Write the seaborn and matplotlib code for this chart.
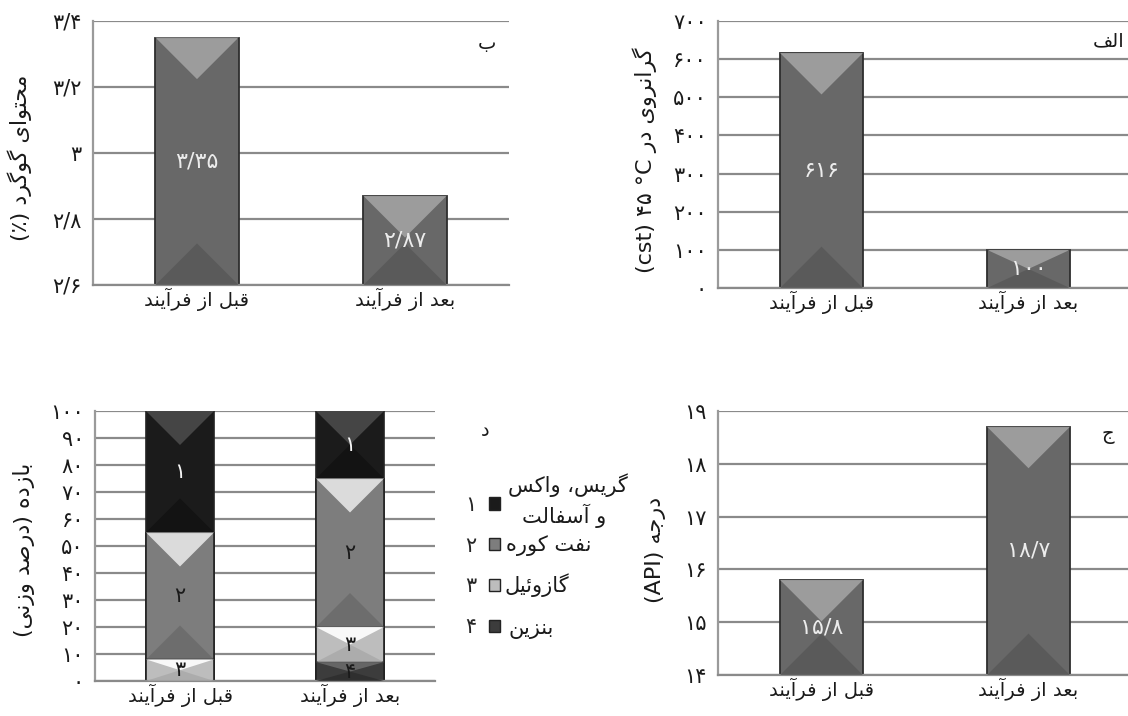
import numpy as np
import pandas as pd
import matplotlib
matplotlib.use('Agg')
import matplotlib.pyplot as plt
import seaborn as sns
from matplotlib.patches import Polygon, Patch

# ---------------- data ----------------
categories = ['قبل از فرآیند', 'بعد از فرآیند']

viscosity = [616, 100]
viscosity_labels = ['۶۱۶', '۱۰۰']
visc_ticks = [0, 100, 200, 300, 400, 500, 600, 700]
visc_ticklabels = ['۰', '۱۰۰', '۲۰۰', '۳۰۰', '۴۰۰', '۵۰۰', '۶۰۰', '۷۰۰']

sulfur = [3.35, 2.87]
sulfur_labels = ['۳/۳۵', '۲/۸۷']
sulfur_ticks = [2.6, 2.8, 3.0, 3.2, 3.4]
sulfur_ticklabels = ['۲/۶', '۲/۸', '۳', '۳/۲', '۳/۴']

api = [15.8, 18.7]
api_labels = ['۱۵/۸', '۱۸/۷']
api_ticks = [14, 15, 16, 17, 18, 19]
api_ticklabels = ['۱۴', '۱۵', '۱۶', '۱۷', '۱۸', '۱۹']

# yields (wt %) : fraction 1..4
grease_wax_asphalt = [45, 25]
fuel_oil = [47, 55]
gasoil = [8, 13]
gasoline = [0, 7]
yield_ticks = [0, 10, 20, 30, 40, 50, 60, 70, 80, 90, 100]
yield_ticklabels = ['۰', '۱۰', '۲۰', '۳۰', '۴۰', '۵۰', '۶۰', '۷۰', '۸۰', '۹۰', '۱۰۰']
fraction_nums = ['۱', '۲', '۳', '۴']
fraction_names = ['گریس، واکس', 'و آسفالت', 'نفت کوره', 'گازوئیل', 'بنزین']

# ---------------- Persian shaping (presentation forms + simple bidi) ----------------
_F = {
    '\u0627': ('\uFE8D', '\uFE8E'), '\u0622': ('\uFE81', '\uFE82'),
    '\u062F': ('\uFEA9', '\uFEAA'), '\u0631': ('\uFEAD', '\uFEAE'),
    '\u0632': ('\uFEAF', '\uFEB0'), '\u0648': ('\uFEED', '\uFEEE'),
    '\u0628': ('\uFE8F', '\uFE90', '\uFE91', '\uFE92'),
    '\u062A': ('\uFE95', '\uFE96', '\uFE97', '\uFE98'),
    '\u062C': ('\uFE9D', '\uFE9E', '\uFE9F', '\uFEA0'),
    '\u062D': ('\uFEA1', '\uFEA2', '\uFEA3', '\uFEA4'),
    '\u0633': ('\uFEB1', '\uFEB2', '\uFEB3', '\uFEB4'),
    '\u0635': ('\uFEB9', '\uFEBA', '\uFEBB', '\uFEBC'),
    '\u0639': ('\uFEC9', '\uFECA', '\uFECB', '\uFECC'),
    '\u0641': ('\uFED1', '\uFED2', '\uFED3', '\uFED4'),
    '\u0642': ('\uFED5', '\uFED6', '\uFED7', '\uFED8'),
    '\u0644': ('\uFEDD', '\uFEDE', '\uFEDF', '\uFEE0'),
    '\u0645': ('\uFEE1', '\uFEE2', '\uFEE3', '\uFEE4'),
    '\u0646': ('\uFEE5', '\uFEE6', '\uFEE7', '\uFEE8'),
    '\u0647': ('\uFEE9', '\uFEEA', '\uFEEB', '\uFEEC'),
    '\u0626': ('\uFE89', '\uFE8A', '\uFE8B', '\uFE8C'),
    '\u06CC': ('\uFBFC', '\uFBFD', '\uFBFE', '\uFBFF'),
    '\u06A9': ('\uFB8E', '\uFB8F', '\uFB90', '\uFB91'),
    '\u06AF': ('\uFB92', '\uFB93', '\uFB94', '\uFB95'),
}


def _shape(s):
    out = []
    for i, c in enumerate(s):
        f = _F.get(c)
        if f is None:
            out.append(c)
            continue
        p = s[i - 1] if i > 0 else ''
        n = s[i + 1] if i + 1 < len(s) else ''
        pj = p in _F and len(_F[p]) == 4
        nj = len(f) == 4 and n in _F
        if pj and nj:
            out.append(f[3])
        elif pj:
            out.append(f[1])
        elif nj:
            out.append(f[2])
        else:
            out.append(f[0])
    return ''.join(out)


_MIRROR = {'(': ')', ')': '('}


def _ltr(c):
    return (c.isascii() and c.isalnum()) or c in '°۰۱۲۳۴۵۶۷۸۹'


def fa(s):
    s = _shape(s)
    runs = []
    for c in s:
        t = _ltr(c)
        if runs and runs[-1][0] == t:
            runs[-1][1].append(c)
        else:
            runs.append([t, [c]])
    parts = []
    for t, chars in reversed(runs):
        if t:
            parts.append(''.join(chars))
        else:
            parts.append(''.join(_MIRROR.get(c, c) for c in reversed(chars)))
    return ''.join(parts)


# ---------------- style ----------------
sns.set_style('white')
plt.rcParams['font.family'] = ['DejaVu Sans']

W, H = 1128, 716
fig = plt.figure(figsize=(W / 100, H / 100), dpi=100)

GRID = '#8a8a8a'
BAR = '#686868'
EDGE = '#2e2e2e'
TXT = '#1a1a1a'
TICK_FS = 15
CAT_FS = 14
YLAB_FS = 16


def px_axes(x0, y0, x1, y1):
    return fig.add_axes([x0 / W, 1 - y1 / H, (x1 - x0) / W, (y1 - y0) / H])


def style(ax, ylim, ticks, ticklabels):
    ax.set_xlim(-0.5, 1.5)
    ax.set_ylim(*ylim)
    ax.set_yticks(ticks)
    ax.set_yticklabels(ticklabels, fontsize=TICK_FS, color=TXT)
    ax.yaxis.grid(True, color=GRID, lw=1.6)
    ax.xaxis.grid(False)
    ax.set_axisbelow(True)
    for s in ['top', 'right']:
        ax.spines[s].set_visible(False)
    ax.spines['left'].set_color('#9a9a9a')
    ax.spines['left'].set_linewidth(1.6)
    ax.spines['bottom'].set_color(GRID)
    ax.spines['bottom'].set_linewidth(1.6)
    ax.set_xticks([0, 1])
    ax.set_xticklabels([fa(c) for c in categories], fontsize=CAT_FS, color=TXT)
    ax.set_xticks([-0.5, 0.5, 1.5], minor=True)
    ax.tick_params(axis='x', which='major', length=0, pad=2)
    ax.tick_params(axis='x', which='minor', length=8, color=GRID, width=1.5)
    ax.tick_params(axis='y', length=6, color=GRID, width=1.5, pad=2)
    ax.set_xlabel('')
    ax.set_ylabel('')


def bevel(ax, x0, w, y0, y1, light, dark):
    pos = ax.get_position()
    xr = np.diff(ax.get_xlim())[0]
    yr = np.diff(ax.get_ylim())[0]
    bw_px = w / xr * pos.width * W
    seg_px = (y1 - y0) / yr * pos.height * H
    d_px = min(bw_px / 2, seg_px / 2)
    d = d_px * yr / (pos.height * H)
    ax.add_patch(Polygon([(x0, y1), (x0 + w, y1), (x0 + w / 2, y1 - d)],
                         closed=True, fc=light, ec='none', alpha=0.9, zorder=3))
    ax.add_patch(Polygon([(x0, y0), (x0 + w, y0), (x0 + w / 2, y0 + d)],
                         closed=True, fc=dark, ec='none', alpha=0.8, zorder=3))


def simple_bars(ax, vals, labels, ylim):
    df = pd.DataFrame({'cat': [fa(c) for c in categories], 'val': vals})
    sns.barplot(data=df, x='cat', y='val', width=0.4, color=BAR, saturation=1,
                edgecolor=EDGE, linewidth=1.3, ax=ax, zorder=2)
    ax.set_ylim(*ylim)
    for i, p in enumerate(ax.patches[:len(vals)]):
        y0 = max(p.get_y(), ylim[0])
        y1 = p.get_y() + p.get_height()
        bevel(ax, p.get_x(), p.get_width(), y0, y1, '#a2a2a2', '#575757')
        ax.text(p.get_x() + p.get_width() / 2, (y0 + y1) / 2, labels[i],
                ha='center', va='center', color='#ececec', fontsize=16, zorder=5)


# ---- top-left: sulfur (ب) ----
ax_tl = px_axes(93, 21, 509, 285)
simple_bars(ax_tl, sulfur, sulfur_labels, (2.6, 3.4))
style(ax_tl, (2.6, 3.4), sulfur_ticks, sulfur_ticklabels)

# ---- top-right: viscosity (الف) ----
ax_tr = px_axes(718, 21, 1132, 288)
simple_bars(ax_tr, viscosity, viscosity_labels, (0, 700))
style(ax_tr, (0, 700), visc_ticks, visc_ticklabels)

# ---- bottom-right: API (ج) ----
ax_br = px_axes(718, 411, 1132, 675)
simple_bars(ax_br, api, api_labels, (14, 19))
style(ax_br, (14, 19), api_ticks, api_ticklabels)

# ---- bottom-left: yields stacked (د) ----
ax_bl = px_axes(95, 411, 435, 681)
ax_bl.set_ylim(0, 100)
segs = [grease_wax_asphalt, fuel_oil, gasoil, gasoline]
seg_colors = ['#1b1b1b', '#7d7d7d', '#bdbdbd', '#3c3c3c']
seg_light = ['#4a4a4a', '#e6e6e6', '#ffffff', '#6a6a6a']
seg_dark = ['#111111', '#6a6a6a', '#a8a8a8', '#2c2c2c']
seg_txt = ['#f4f4f4', '#1a1a1a', '#1a1a1a', '#1a1a1a']
cums = [np.sum(np.array(segs[k:]), axis=0) for k in range(4)]
for k in range(4):
    df = pd.DataFrame({'cat': [fa(c) for c in categories], 'val': cums[k]})
    n0 = len(ax_bl.patches)
    sns.barplot(data=df, x='cat', y='val', width=0.4, color=seg_colors[k], saturation=1,
                edgecolor='#222222', linewidth=1.2, ax=ax_bl, zorder=2)
    for i, p in enumerate(ax_bl.patches[n0:n0 + 2]):
        top = cums[k][i]
        bot = cums[k + 1][i] if k < 3 else 0
        if top - bot <= 0:
            continue
        bevel(ax_bl, p.get_x(), p.get_width(), bot, top, seg_light[k], seg_dark[k])
        ax_bl.text(p.get_x() + p.get_width() / 2, (top + bot) / 2, fraction_nums[k],
                   ha='center', va='center', color=seg_txt[k], fontsize=15, zorder=5)
style(ax_bl, (0, 100), yield_ticks, yield_ticklabels)

# ---- axis titles ----
fig.text(20 / W, 1 - 158 / H, fa('محتوای گوگرد (٪)'), rotation=90, ha='center', va='center',
         fontsize=YLAB_FS, color=TXT)
fig.text(645 / W, 1 - 160 / H, fa('گرانروی در °C ۴۵ (cst)'), rotation=90, ha='center',
         va='center', fontsize=YLAB_FS, color=TXT)
fig.text(24 / W, 1 - 550 / H, fa('بازده (درصد وزنی)'), rotation=90, ha='center', va='center',
         fontsize=YLAB_FS, color=TXT)
fig.text(656 / W, 1 - 550 / H, fa('درجه (API)'), rotation=90, ha='center', va='center',
         fontsize=YLAB_FS, color=TXT)

# ---- panel letters ----
fig.text(487 / W, 1 - 44 / H, fa('ب'), ha='center', va='center', fontsize=14, color=TXT)
fig.text(1125 / W, 1 - 41 / H, fa('الف'), ha='right', va='center', fontsize=14, color=TXT)
fig.text(1108 / W, 1 - 435 / H, fa('ج'), ha='center', va='center', fontsize=14, color=TXT)
fig.text(485 / W, 1 - 430 / H, fa('د'), ha='center', va='center', fontsize=14, color=TXT)

# ---- legend ----
handles = [Patch(fc=c, ec='#222222', lw=1.0) for c in seg_colors]
fig.legend(handles, fraction_nums, markerfirst=False, frameon=False, loc='upper left',
           bbox_to_anchor=(446 / W, 1 - 476 / H), fontsize=15, handlelength=0.55,
           handleheight=0.55, handletextpad=0.6, labelspacing=1.0, borderpad=0.4)
name_pos = [(508, 485), (522, 516), (506, 546), (505, 585), (508, 629)]
for name, (x, y) in zip(fraction_names, name_pos):
    fig.text(x / W, 1 - y / H, fa(name), ha='left', va='center', fontsize=15, color=TXT)

fig.savefig('out.png', dpi=100)
